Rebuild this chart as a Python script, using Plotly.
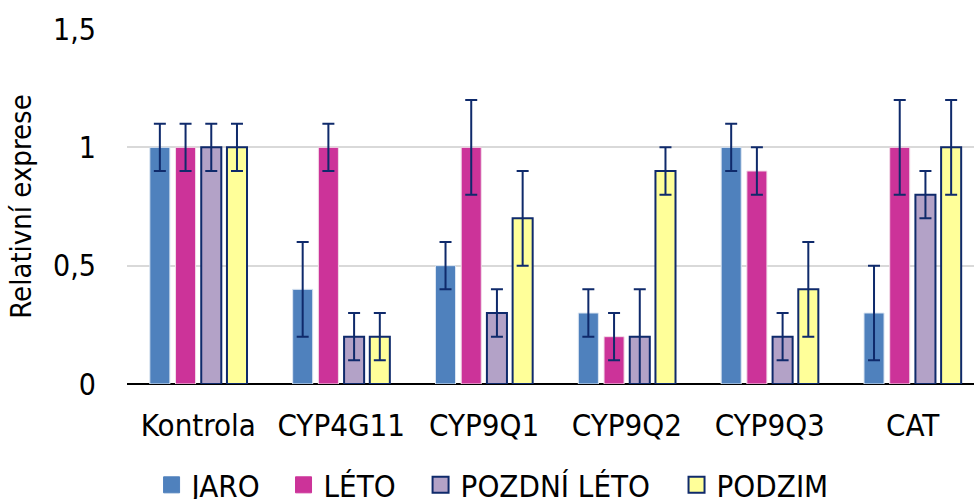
import plotly.graph_objects as go

categories = ["Kontrola", "CYP4G11", "CYP9Q1", "CYP9Q2", "CYP9Q3", "CAT"]
series_names = ["JARO", "LÉTO", "POZDNÍ LÉTO", "PODZIM"]
jaro = [1.0, 0.4, 0.5, 0.3, 1.0, 0.3]
jaro_err = [0.1, 0.2, 0.1, 0.1, 0.1, 0.2]
leto = [1.0, 1.0, 1.0, 0.2, 0.9, 1.0]
leto_err = [0.1, 0.1, 0.2, 0.1, 0.1, 0.2]
pozdni = [1.0, 0.2, 0.3, 0.2, 0.2, 0.8]
pozdni_err = [0.1, 0.1, 0.1, 0.2, 0.1, 0.1]
podzim = [1.0, 0.2, 0.7, 0.9, 0.4, 1.0]
podzim_err = [0.1, 0.1, 0.2, 0.1, 0.2, 0.2]
tick_vals = [0, 0.5, 1, 1.5]
tick_text = ["0", "0,5", "1", "1,5"]

FONT = "DejaVu Sans Condensed, Tahoma, DejaVu Sans, sans-serif"
ERR = "#0F2A6B"

fills = ["#4F81BD", "#CC3399", "#B3A2C7", "#FFFF99"]
edges = ["#DCE6F2", "#F2DCE8", ERR, ERR]
edge_w = [1, 1, 2, 2]
values = [jaro, leto, pozdni, podzim]
errors = [jaro_err, leto_err, pozdni_err, podzim_err]
legend_ids = ["legend", "legend2", "legend3", "legend4"]
legend_x = [0.0290, 0.1848, 0.3466, 0.6488]

fig = go.Figure()
for name, v, e, fc, ec, ew in zip(series_names, values, errors, fills, edges, edge_w):
    fig.add_trace(go.Bar(
        x=categories, y=v, name=name, showlegend=False,
        marker=dict(color=fc, line=dict(color=ec, width=ew)),
        error_y=dict(type="data", array=e, visible=True, color=ERR,
                     thickness=2, width=6),
    ))
# legend entries with larger square swatches
for name, fc, ec, ew, lg in zip(series_names, fills, edges, edge_w, legend_ids):
    fig.add_trace(go.Scatter(
        x=[None], y=[None], mode="markers", name=name, showlegend=True,
        legend=lg,
        marker=dict(symbol="square", size=16, color=fc,
                    line=dict(color=ec if ew == 2 else fc, width=ew)),
    ))

legend_common = dict(orientation="h", xanchor="left", y=-0.285,
                     yanchor="middle", font=dict(size=31, family=FONT),
                     itemwidth=30, bgcolor="rgba(0,0,0,0)")
legend_layout = {lg: dict(x=lx, **legend_common)
                 for lg, lx in zip(legend_ids, legend_x)}

fig.update_layout(
    width=974, height=499,
    margin=dict(l=127, r=0, t=29, b=115, autoexpand=False),
    paper_bgcolor="white", plot_bgcolor="white",
    barmode="group", bargap=0.28, bargroupgap=0.22,
    font=dict(family=FONT, size=30, color="#000000"),
    showlegend=True,
    xaxis=dict(showgrid=False, showline=False, ticks="",
               range=[-0.5, 5.43], tickfont=dict(size=31),
               ticklabelstandoff=20),
    yaxis=dict(range=[0, 1.5], tickvals=tick_vals, ticktext=tick_text,
               showgrid=True, gridcolor="#D9D9D9", gridwidth=2,
               zeroline=True, zerolinecolor="#000000", zerolinewidth=2,
               showline=False, ticks="", ticklabelstandoff=30,
               tickfont=dict(size=30),
               title=dict(text="Relativní exprese", font=dict(size=29),
                          standoff=12)),
    **legend_layout,
)

fig.write_html("out.html")
